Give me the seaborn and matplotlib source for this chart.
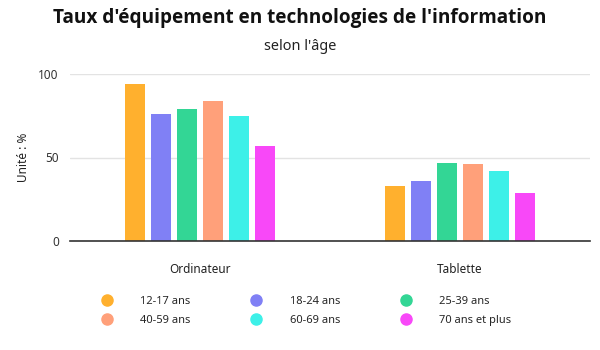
import matplotlib
matplotlib.use("Agg")
import matplotlib.pyplot as plt
from matplotlib.lines import Line2D
import seaborn as sns
import pandas as pd

categories = ["Ordinateur", "Tablette"]
age_groups = ["12-17 ans", "18-24 ans", "25-39 ans", "40-59 ans", "60-69 ans", "70 ans et plus"]
ordinateur = [94, 76, 79, 84, 75, 57]
tablette = [33, 36, 47, 46, 42, 29]
colors = ["#FFB02E", "#8080F5", "#33D695", "#FFA07A", "#3DF0E8", "#F848F8"]

rows = []
for cat, vals in zip(categories, [ordinateur, tablette]):
    for g, v in zip(age_groups, vals):
        rows.append({"cat": cat, "age": g, "val": v})
df = pd.DataFrame(rows)

sns.set_theme(style="white")
plt.rcParams["font.family"] = ["Noto Sans", "DejaVu Sans"]

fig = plt.figure(figsize=(6, 3.5), dpi=100)
ax = fig.add_axes([70 / 600, (350 - 241) / 350, 520 / 600, (241 - 74) / 350])

sns.barplot(data=df, x="cat", y="val", hue="age", hue_order=age_groups,
            palette=colors, width=0.6, gap=0.23, saturation=1, ax=ax,
            legend=False, linewidth=0)

ax.set_ylim(0, 100)
ax.set_yticks([0, 50, 100])
ax.set_yticklabels(["0", "50", "100"], fontsize=8.5, color="#333333")
ax.yaxis.grid(True, color="#e3e3e3", linewidth=1)
ax.set_axisbelow(True)
for s in ["top", "right", "left"]:
    ax.spines[s].set_visible(False)
ax.spines["bottom"].set_color("#333333")
ax.spines["bottom"].set_linewidth(1.2)
ax.tick_params(axis="both", length=0)
ax.tick_params(axis="y", pad=8)
ax.tick_params(axis="x", pad=16, labelsize=8.5, labelcolor="#222222")
ax.set_xlabel("")
ax.set_ylabel("Unité : %", fontsize=8.5, color="#222222", labelpad=6)

fig.text(0.5, 1 - 18 / 350, "Taux d'équipement en technologies de l'information",
         ha="center", va="center", fontsize=13.7, fontweight="bold",
         family=["Open Sans", "DejaVu Sans"], color="#111111")
fig.text(0.5, 1 - 47 / 350, "selon l'âge", ha="center", va="center",
         fontsize=10.4, color="#222222")

# row-major order for a 3-column legend
order = [0, 3, 1, 4, 2, 5]
handles = [Line2D([], [], marker="o", linestyle="", markersize=8,
                  markerfacecolor=colors[i], markeredgecolor=colors[i]) for i in order]
labels = [age_groups[i] for i in order]
fig.legend(handles, labels, ncol=3, loc="center left", frameon=False,
           bbox_to_anchor=(86 / 600, 1 - 311 / 350), fontsize=8,
           handletextpad=2.0, columnspacing=4.9, labelspacing=0.75)

fig.savefig("out.png", dpi=100, facecolor="white")
